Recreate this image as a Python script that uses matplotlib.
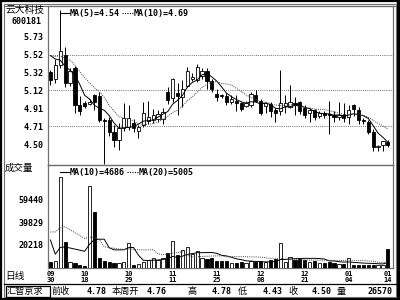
import numpy as np
import matplotlib
matplotlib.use('Agg')
import matplotlib.pyplot as plt
from matplotlib.lines import Line2D
from matplotlib.patches import Rectangle

# daily candles, 09/30 .. 01/14
opens = [5.32, 5.25, 5.40, 5.52, 5.20, 5.37, 4.95, 4.97, 4.96, 5.06,
         5.05, 4.78, 4.78, 4.65, 4.56, 4.69, 4.70, 4.75, 4.66, 4.73,
         4.77, 4.78, 4.79, 4.79, 5.10, 5.03, 5.09, 5.04, 5.17, 5.25,
         5.23, 5.28, 5.33, 5.22, 5.07, 5.06, 5.05, 4.99, 5.00, 4.97,
         4.94, 4.95, 5.06, 5.00, 4.94, 4.96, 4.90, 4.88, 4.94, 4.93,
         4.97, 4.98, 4.92, 4.86, 4.89, 4.83, 4.86, 4.85, 4.84, 4.82,
         4.84, 4.82, 4.95, 4.90, 4.78, 4.76, 4.65, 4.48, 4.50, 4.53]
highs = [5.35, 5.47, 6.02, 5.61, 5.37, 5.39, 5.05, 5.00, 5.02, 5.08,
         5.10, 4.80, 4.82, 4.72, 4.75, 4.97, 4.95, 4.79, 4.72, 4.99,
         5.00, 4.91, 4.90, 4.92, 5.15, 5.26, 5.20, 5.23, 5.38, 5.31,
         5.41, 5.37, 5.37, 5.25, 5.13, 5.08, 5.09, 5.06, 5.06, 4.98,
         5.00, 5.10, 5.12, 5.02, 4.99, 4.98, 4.92, 5.35, 5.06, 5.18,
         5.04, 5.00, 4.95, 4.92, 4.91, 4.88, 4.88, 5.00, 4.88, 4.99,
         4.97, 4.95, 4.96, 4.93, 4.80, 4.78, 4.68, 4.50, 4.55, 4.56]
lows = [5.18, 5.20, 5.37, 5.16, 5.17, 4.86, 4.84, 4.92, 4.95, 4.90,
        4.76, 4.28, 4.60, 4.48, 4.44, 4.66, 4.67, 4.65, 4.58, 4.70,
        4.74, 4.75, 4.76, 4.74, 4.96, 4.98, 4.84, 4.93, 5.15, 5.22,
        5.21, 5.24, 5.13, 5.10, 5.00, 5.03, 4.95, 4.96, 4.88, 4.88,
        4.93, 4.93, 4.99, 4.84, 4.86, 4.82, 4.76, 4.84, 4.86, 4.92,
        4.84, 4.85, 4.80, 4.76, 4.78, 4.80, 4.81, 4.62, 4.76, 4.78,
        4.76, 4.74, 4.83, 4.74, 4.74, 4.62, 4.43, 4.43, 4.43, 4.48]
closes = [5.23, 5.40, 5.56, 5.20, 5.33, 4.95, 4.88, 4.94, 4.99, 4.98,
          4.78, 4.77, 4.65, 4.56, 4.69, 4.80, 4.80, 4.69, 4.70, 4.86,
          4.82, 4.84, 4.85, 4.87, 5.01, 5.24, 5.05, 5.13, 5.34, 5.27,
          5.38, 5.34, 5.22, 5.13, 5.04, 5.05, 4.99, 5.02, 4.97, 4.91,
          4.97, 5.07, 5.00, 4.86, 4.97, 4.88, 4.86, 4.97, 4.97, 4.98,
          4.95, 4.88, 4.84, 4.90, 4.82, 4.86, 4.84, 4.84, 4.82, 4.84,
          4.80, 4.89, 4.91, 4.78, 4.77, 4.65, 4.48, 4.49, 4.54, 4.50]
volumes = [5200, 6100, 79300, 22700, 5200, 4400, 2600, 1700, 71500, 48800,
           8700, 6100, 5200, 4400, 4400, 5200, 21800, 2600, 3500, 5200,
           7000, 8700, 7000, 8700, 13100, 23500, 11300, 15700, 18300, 12200,
           14800, 9000, 8000, 8700, 6500, 6100, 6100, 4400, 4400, 5200,
           4400, 6100, 5200, 6100, 5200, 7000, 7800, 21800, 5200, 9600,
           7000, 7800, 7000, 5200, 6100, 4400, 4400, 5200, 4400, 3500,
           3500, 9000, 3000, 2600, 2600, 3000, 3000, 2600, 2600, 16500]
# closes / volumes before the window, only used for the moving averages
prior_closes = [5.45, 5.50, 5.52, 5.48, 5.55, 5.60, 5.62, 5.55, 5.55]
prior_volumes = [5000, 5000, 5000, 60000, 55000, 50000, 55000, 50000, 49000, 50000,
                 130000, 20000, 18000, 15000, 14000, 12000, 11000, 10000, 8800]

date_idx = [0, 7, 16, 25, 34, 43, 52, 61, 69]
date_labels = ['09\n30', '10\n18', '10\n29', '11\n11', '11\n25',
               '12\n08', '12\n21', '01\n04', '01\n14']
price_ticks = [4.50, 4.71, 4.91, 5.12, 5.32, 5.52, 5.73]
price_grid = [4.71, 5.12, 5.52]
vol_ticks = [20218, 39829, 59440]

info_names = ['前收', '本周开', '高', '低', '收', '量']
info_values = ['4.78', '4.76', '4.78', '4.43', '4.50', '26570']


def moving_avg(values, n):
    return np.convolve(values, np.ones(n) / n, mode='valid')


n = len(closes)
x = np.arange(n)
ma5 = moving_avg(np.array(prior_closes + closes), 5)[-n:]
ma10 = moving_avg(np.array(prior_closes + closes), 10)[-n:]
vma10 = moving_avg(np.array(prior_volumes + volumes, dtype=float), 10)[-n:]
vma20 = moving_avg(np.array(prior_volumes + volumes, dtype=float), 20)[-n:]

MONO = 'DejaVu Sans Mono'
CJK = ['Noto Sans CJK SC', 'DejaVu Sans']
GRAY = '#707070'

fig = plt.figure(figsize=(4, 3), dpi=100)

# background axes in pixel coordinates for frame and labels
bg = fig.add_axes([0, 0, 1, 1])
bg.set_xlim(0, 400)
bg.set_ylim(300, 0)
bg.axis('off')
bg.add_patch(Rectangle((0.8, 0.8), 397.4, 298.4, fill=False, ec='black', lw=1.6))
bg.add_patch(Rectangle((397, 0), 3, 300, color='black'))
bg.add_patch(Rectangle((3.5, 3.5), 392, 293, fill=False, ec=GRAY, lw=0.8))
bg.plot([3.5, 395.5], [6, 6], color=GRAY, lw=0.8)
bg.plot([3.5, 395.5], [283.5, 283.5], color='black', lw=0.9)
bg.add_patch(Rectangle((5.5, 285.5), 44, 11, fill=False, ec='black', lw=0.9))

bg.text(5.5, 10, '云大科技', family=CJK, fontsize=7, va='center', ha='left')
bg.text(11, 22, '600181', family=MONO, fontsize=6, weight='bold', va='center')
bg.text(5, 168, '成交量', family=CJK, fontsize=6.8, va='center', ha='left')
bg.text(5, 276, '日线', family=CJK, fontsize=7, va='center', ha='left')
bg.text(7, 291.3, '汇智京求', family=CJK, fontsize=6.6, va='center', ha='left')

name_x = [52, 112, 188, 238, 288, 337]
value_end = [107, 167, 232, 283, 332, 392]
for nm, nx, val, vx in zip(info_names, name_x, info_values, value_end):
    bg.text(nx, 291.3, nm, family=CJK, fontsize=6.6, va='center', ha='left')
    bg.text(vx, 291.3, val, family=MONO, fontsize=6, weight='bold',
            va='center', ha='right')

# price panel
ax1 = fig.add_axes([48 / 400, 1 - 165 / 300, 345 / 400, 159 / 300])
ax1.set_facecolor('none')
ax1.set_xlim(-0.5, 70.05)
ax1.set_ylim(4.274, 6.069)
for y in price_grid:
    ax1.axhline(y, color=GRAY, lw=0.7, ls=(0, (1, 1.2)), zorder=1)

o = np.array(opens)
c = np.array(closes)
up = c >= o
ax1.vlines(x, lows, highs, color='black', lw=0.7, zorder=2)
body_h = np.maximum(np.abs(c - o), 0.008)
ax1.bar(x, body_h, bottom=np.minimum(o, c), width=0.66,
        color=np.where(up, 'white', 'black'), edgecolor='black', lw=0.6, zorder=3)
ax1.plot(x, ma5, color='black', lw=0.7, zorder=4)
ax1.plot(x, ma10, color='#404040', lw=0.7, ls=(0, (1, 1.2)), zorder=4)

ax1.set_yticks(price_ticks)
ax1.set_yticklabels(['%.2f' % v for v in price_ticks], family=MONO,
                    fontsize=6, weight='bold')
ax1.tick_params(axis='y', length=0, pad=3)
ax1.set_xticks([])
for s in ax1.spines.values():
    s.set_color(GRAY)
    s.set_linewidth(0.9)

# price legend
ax1.add_line(Line2D([0.035, 0.064], [0.955, 0.955], transform=ax1.transAxes,
                    color='black', lw=0.8))
ax1.text(0.064, 0.955, 'MA(5)=4.54', transform=ax1.transAxes, family=MONO,
         fontsize=6, weight='bold', va='center')
ax1.add_line(Line2D([0.215, 0.245], [0.955, 0.955], transform=ax1.transAxes,
                    color='black', lw=0.8, ls=(0, (1, 1.2))))
ax1.text(0.247, 0.955, 'MA(10)=4.69', transform=ax1.transAxes, family=MONO,
         fontsize=6, weight='bold', va='center')

# volume panel
ax2 = fig.add_axes([48 / 400, 1 - 268 / 300, 345 / 400, 103 / 300])
ax2.set_facecolor('none')
ax2.set_xlim(-0.5, 70.05)
ax2.set_ylim(0, 89775)
ax2.bar(x, volumes, width=0.66, color=np.where(up, 'white', 'black'),
        edgecolor='black', lw=0.6, zorder=3)
ax2.plot(x, vma10, color='black', lw=0.7, zorder=4)
ax2.plot(x, vma20, color='#404040', lw=0.7, ls=(0, (1, 1.2)), zorder=4)

ax2.set_yticks(vol_ticks)
ax2.set_yticklabels([str(v) for v in vol_ticks], family=MONO, fontsize=6,
                    weight='bold')
ax2.set_xticks(date_idx)
ax2.set_xticklabels(date_labels, family=MONO, fontsize=5, weight='bold',
                    linespacing=0.95)
ax2.tick_params(axis='both', length=0, pad=2)
ax2.tick_params(axis='y', pad=3)
for s in ax2.spines.values():
    s.set_color(GRAY)
    s.set_linewidth(0.9)

ax2.add_line(Line2D([0.035, 0.064], [0.93, 0.93], transform=ax2.transAxes,
                    color='black', lw=0.8))
ax2.text(0.064, 0.93, 'MA(10)=4686', transform=ax2.transAxes, family=MONO,
         fontsize=6, weight='bold', va='center')
ax2.add_line(Line2D([0.23, 0.26], [0.93, 0.93], transform=ax2.transAxes,
                    color='black', lw=0.8, ls=(0, (1, 1.2))))
ax2.text(0.262, 0.93, 'MA(20)=5005', transform=ax2.transAxes, family=MONO,
         fontsize=6, weight='bold', va='center')

fig.savefig('out.png', dpi=100)
